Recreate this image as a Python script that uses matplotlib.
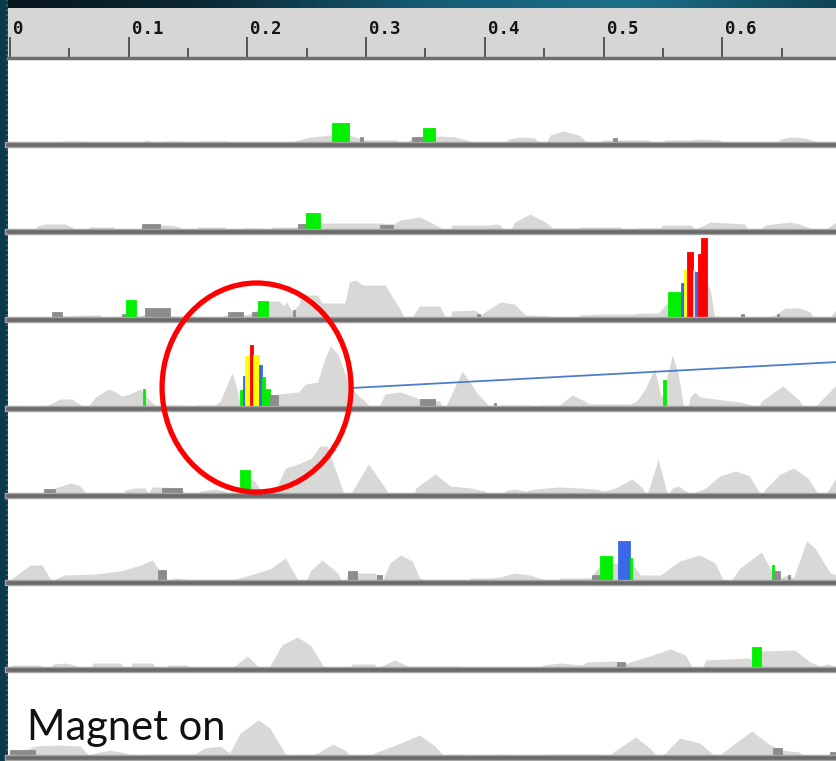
import matplotlib
matplotlib.use("Agg")
import matplotlib.pyplot as plt
import numpy as np
from matplotlib.patches import Ellipse
from matplotlib.colors import LinearSegmentedColormap
import matplotlib.transforms as mtrans

# ---------------- data ----------------
ruler_major = [0.0, 0.1, 0.2, 0.3, 0.4, 0.5, 0.6]
ruler_labels = ["0", "0.1", "0.2", "0.3", "0.4", "0.5", "0.6"]
ruler_minor = [0.05, 0.15, 0.25, 0.35, 0.45, 0.55, 0.65]

t1_x = [0.000, 0.042, 0.045, 0.063, 0.066, 0.110, 0.111, 0.115, 0.120, 0.123, 0.129, 0.131, 0.145, 0.147,
        0.158, 0.160, 0.183, 0.185, 0.198, 0.200, 0.213, 0.216, 0.236, 0.240, 0.253, 0.270, 0.286, 0.291,
        0.299, 0.326, 0.329, 0.337, 0.339, 0.362, 0.375, 0.388, 0.396, 0.415, 0.420, 0.430, 0.442, 0.447,
        0.451, 0.455, 0.466, 0.479, 0.486, 0.497, 0.500, 0.538, 0.541, 0.548, 0.552, 0.573, 0.581, 0.598,
        0.602, 0.645, 0.649, 0.657, 0.670, 0.678, 0.682, 0.697]
t1_h = [0, 0, 4, 4, 0, 0, 3, 5, 3, 0, 0, 4, 4, 0,
        0, 4, 4, 0, 0, 3, 3, 0, 0, 4, 8, 10, 10, 8,
        5, 5, 2, 5, 8, 9, 8, 4, 0, 0, 6, 8, 7, 0,
        0, 10, 14, 10, 3, 3, 5, 5, 0, 0, 5, 5, 6, 5,
        0, 0, 6, 8, 7, 4, 0, 0]
t1_marks = [(0.271, 0.286, 22, "green"), (0.348, 0.358, 17, "green"), (0.295, 0.297, 8, "dark"),
            (0.339, 0.348, 8, "dark"), (0.508, 0.511, 7, "dark")]

t2_x = [0.000, 0.019, 0.023, 0.029, 0.046, 0.052, 0.059, 0.066, 0.067, 0.087, 0.089, 0.108, 0.110, 0.126,
        0.135, 0.143, 0.147, 0.157, 0.158, 0.181, 0.184, 0.194, 0.196, 0.212, 0.215, 0.219, 0.221, 0.244,
        0.261, 0.312, 0.323, 0.329, 0.345, 0.354, 0.365, 0.369, 0.371, 0.372, 0.404, 0.409, 0.413, 0.417,
        0.421, 0.425, 0.438, 0.451, 0.457, 0.478, 0.480, 0.514, 0.518, 0.527, 0.528, 0.548, 0.550, 0.573,
        0.577, 0.581, 0.590, 0.619, 0.623, 0.630, 0.636, 0.657, 0.665, 0.674, 0.678, 0.684, 0.697]
t2_h = [0, 0, 6, 8, 8, 5, 0, 0, 5, 5, 0, 0, 4, 7,
        7, 5, 0, 0, 5, 5, 0, 0, 4, 4, 0, 0, 5, 5,
        9, 9, 8, 12, 15, 10, 3, 0, 0, 7, 7, 8, 7, 0,
        0, 10, 18, 10, 4, 4, 5, 5, 0, 0, 4, 4, 7, 7,
        3, 5, 10, 8, 0, 0, 7, 10, 8, 4, 0, 0, 11]
t2_marks = [(0.111, 0.126, 8, "dark"), (0.243, 0.249, 8, "dark"), (0.249, 0.261, 19, "green"),
            (0.312, 0.323, 7, "dark")]

t3_x = [0.000, 0.024, 0.025, 0.034, 0.044, 0.063, 0.076, 0.080, 0.088, 0.093, 0.110, 0.114, 0.135, 0.156,
        0.160, 0.177, 0.181, 0.198, 0.204, 0.217, 0.227, 0.230, 0.233, 0.238, 0.243, 0.246, 0.259, 0.263,
        0.282, 0.286, 0.291, 0.297, 0.316, 0.329, 0.333, 0.337, 0.345, 0.362, 0.368, 0.371, 0.372, 0.392,
        0.396, 0.400, 0.413, 0.425, 0.434, 0.455, 0.459, 0.478, 0.480, 0.497, 0.526, 0.531, 0.546, 0.552,
        0.586, 0.590, 0.594, 0.611, 0.615, 0.640, 0.645, 0.653, 0.665, 0.674, 0.678, 0.689, 0.697]
t3_h = [0, 0, 3, 3, 4, 5, 5, 0, 0, 4, 4, 6, 4, 4,
        0, 0, 5, 5, 7, 19, 19, 14, 18, 8, 15, 25, 25, 17,
        17, 38, 40, 35, 35, 10, 0, 0, 14, 14, 0, 0, 9, 10,
        5, 8, 18, 16, 5, 4, 0, 0, 5, 6, 6, 7, 7, 15,
        40, 30, 0, 0, 3, 3, 5, 12, 12, 8, 0, 0, 12]
t3_marks = [(0.035, 0.044, 8, "dark"), (0.094, 0.098, 6, "dark"), (0.098, 0.106, 20, "green"),
            (0.114, 0.135, 12, "dark"), (0.184, 0.196, 8, "dark"), (0.204, 0.209, 8, "dark"),
            (0.209, 0.217, 19, "green"), (0.238, 0.240, 10, "dark"), (0.393, 0.396, 6, "dark"),
            (0.554, 0.565, 28, "green"), (0.565, 0.568, 37, "blue"), (0.568, 0.570, 50, "yellow"),
            (0.570, 0.575, 68, "red"), (0.575, 0.577, 50, "light"), (0.577, 0.580, 48, "blue"),
            (0.580, 0.582, 66, "red"), (0.582, 0.587, 82, "red"), (0.616, 0.618, 6, "dark"),
            (0.646, 0.648, 6, "dark")]

t4_x = [0.000, 0.002, 0.029, 0.034, 0.042, 0.052, 0.061, 0.066, 0.072, 0.083, 0.089, 0.094, 0.101, 0.110,
        0.115, 0.122, 0.126, 0.129, 0.131, 0.147, 0.152, 0.154, 0.156, 0.173, 0.177, 0.183, 0.187, 0.190,
        0.194, 0.226, 0.243, 0.249, 0.259, 0.265, 0.270, 0.276, 0.285, 0.292, 0.299, 0.305, 0.310, 0.316,
        0.329, 0.345, 0.362, 0.365, 0.368, 0.381, 0.394, 0.404, 0.413, 0.438, 0.442, 0.447, 0.463, 0.467,
        0.474, 0.484, 0.488, 0.522, 0.528, 0.535, 0.543, 0.548, 0.550, 0.553, 0.558, 0.563, 0.567, 0.571,
        0.573, 0.577, 0.581, 0.594, 0.615, 0.628, 0.630, 0.633, 0.651, 0.664, 0.670, 0.676, 0.697]
t4_h = [0, 3, 3, 5, 10, 10, 3, 3, 12, 20, 17, 13, 15, 20,
        12, 4, 0, 0, 4, 4, 0, 0, 4, 4, 8, 25, 36, 25,
        5, 15, 17, 25, 27, 50, 63, 55, 27, 15, 8, 0, 0, 15,
        17, 10, 8, 0, 5, 38, 15, 3, 4, 4, 0, 4, 4, 8,
        14, 8, 5, 5, 8, 20, 40, 15, 12, 30, 54, 35, 5, 0,
        12, 17, 12, 10, 7, 3, 0, 8, 23, 10, 0, 0, 25]
t4_marks = [(0.112, 0.114, 20, "green"), (0.194, 0.196, 19, "green"), (0.196, 0.198, 33, "blue"),
            (0.198, 0.202, 53, "yellow"), (0.202, 0.205, 64, "red"), (0.205, 0.210, 54, "yellow"),
            (0.210, 0.212, 44, "blue"), (0.212, 0.215, 32, "green"), (0.215, 0.219, 20, "green"),
            (0.219, 0.226, 14, "dark"), (0.345, 0.358, 10, "dark"), (0.408, 0.409, 6, "dark"),
            (0.550, 0.553, 29, "green")]
t4_link_x = [0.288, 0.697]
t4_link_h = [21, 47]

t5_x = [0.000, 0.011, 0.013, 0.029, 0.038, 0.051, 0.059, 0.066, 0.074, 0.076, 0.086, 0.088, 0.095, 0.097,
        0.105, 0.114, 0.116, 0.120, 0.126, 0.145, 0.147, 0.158, 0.160, 0.173, 0.181, 0.185, 0.194, 0.202,
        0.206, 0.213, 0.217, 0.223, 0.232, 0.243, 0.254, 0.261, 0.267, 0.282, 0.286, 0.302, 0.316, 0.320,
        0.327, 0.329, 0.337, 0.340, 0.342, 0.358, 0.371, 0.388, 0.400, 0.404, 0.415, 0.417, 0.425, 0.434,
        0.442, 0.463, 0.480, 0.493, 0.501, 0.510, 0.524, 0.533, 0.536, 0.539, 0.546, 0.552, 0.554, 0.558,
        0.563, 0.573, 0.586, 0.598, 0.611, 0.623, 0.633, 0.637, 0.649, 0.660, 0.672, 0.682, 0.686, 0.697]
t5_h = [0, 0, 3, 3, 8, 13, 10, 0, 0, 3, 3, 0, 0, 6,
        8, 8, 3, 9, 9, 8, 0, 0, 5, 7, 5, 0, 0, 18,
        15, 3, 0, 5, 28, 32, 38, 50, 50, 0, 0, 32, 8, 0,
        0, 3, 3, 0, 8, 22, 10, 8, 5, 0, 0, 5, 7, 5,
        7, 9, 8, 7, 5, 8, 17, 8, 0, 10, 37, 10, 0, 8,
        10, 2, 8, 20, 25, 20, 0, 8, 22, 28, 18, 0, 0, 20]
t5_marks = [(0.029, 0.038, 7, "dark"), (0.128, 0.145, 8, "dark"), (0.194, 0.202, 26, "green")]

t6_x = [0.000, 0.002, 0.017, 0.027, 0.035, 0.040, 0.046, 0.072, 0.093, 0.110, 0.120, 0.126, 0.133, 0.139,
        0.147, 0.156, 0.181, 0.190, 0.202, 0.219, 0.232, 0.244, 0.249, 0.253, 0.263, 0.276, 0.280, 0.282,
        0.285, 0.307, 0.314, 0.320, 0.329, 0.339, 0.345, 0.350, 0.386, 0.388, 0.404, 0.413, 0.425, 0.438,
        0.451, 0.455, 0.461, 0.463, 0.489, 0.495, 0.507, 0.512, 0.524, 0.531, 0.548, 0.564, 0.581, 0.594,
        0.602, 0.606, 0.615, 0.633, 0.640, 0.649, 0.655, 0.660, 0.671, 0.678, 0.691, 0.697]
t6_h = [0, 5, 18, 18, 2, 5, 8, 9, 12, 18, 23, 12, 3, 5,
        4, 2, 2, 4, 8, 14, 25, 0, 0, 12, 23, 10, 0, 0,
        10, 10, 3, 20, 28, 22, 5, 3, 3, 5, 5, 6, 10, 8,
        3, 0, 0, 5, 5, 15, 20, 20, 20, 8, 8, 22, 28, 20,
        0, 0, 15, 31, 15, 5, 8, 5, 42, 35, 10, 8]
t6_marks = [(0.125, 0.131, 13, "dark"), (0.285, 0.292, 12, "dark"), (0.309, 0.313, 8, "dark"),
            (0.490, 0.497, 8, "dark"), (0.497, 0.507, 27, "green"), (0.512, 0.522, 42, "blue"),
            (0.522, 0.524, 25, "green"), (0.642, 0.644, 18, "green"), (0.644, 0.649, 12, "dark"),
            (0.655, 0.657, 8, "dark")]

t7_x = [0.000, 0.001, 0.025, 0.030, 0.034, 0.036, 0.046, 0.055, 0.059, 0.067, 0.070, 0.093, 0.097, 0.101,
        0.103, 0.120, 0.123, 0.131, 0.133, 0.149, 0.152, 0.163, 0.164, 0.172, 0.174, 0.185, 0.200, 0.212,
        0.217, 0.229, 0.242, 0.253, 0.266, 0.286, 0.288, 0.307, 0.310, 0.313, 0.324, 0.335, 0.340, 0.378,
        0.381, 0.394, 0.396, 0.410, 0.413, 0.421, 0.423, 0.442, 0.447, 0.449, 0.463, 0.482, 0.486, 0.509,
        0.518, 0.522, 0.539, 0.556, 0.569, 0.576, 0.583, 0.586, 0.622, 0.625, 0.633, 0.661, 0.674, 0.682,
        0.689, 0.697]
t7_h = [0, 5, 5, 0, 0, 6, 7, 5, 0, 0, 7, 7, 0, 0,
        7, 7, 0, 0, 5, 5, 0, 0, 3, 3, 0, 0, 14, 0,
        0, 25, 33, 25, 0, 0, 6, 6, 0, 4, 10, 4, 4, 4,
        0, 0, 2, 2, 0, 0, 3, 3, 0, 5, 7, 5, 8, 9,
        6, 8, 14, 21, 15, 0, 0, 10, 12, 10, 19, 20, 8, 4,
        6, 3]
t7_marks = [(0.511, 0.518, 8, "dark"), (0.625, 0.633, 23, "green")]

t8_x = [0.000, 0.021, 0.042, 0.059, 0.066, 0.072, 0.084, 0.097, 0.105, 0.118, 0.156, 0.164, 0.177, 0.185,
        0.194, 0.209, 0.219, 0.234, 0.243, 0.246, 0.253, 0.259, 0.272, 0.282, 0.288, 0.302, 0.307, 0.329,
        0.345, 0.358, 0.367, 0.371, 0.396, 0.403, 0.411, 0.413, 0.425, 0.434, 0.451, 0.454, 0.497, 0.504,
        0.507, 0.527, 0.539, 0.546, 0.552, 0.564, 0.581, 0.591, 0.596, 0.598, 0.611, 0.625, 0.638, 0.649,
        0.665, 0.670, 0.676, 0.678, 0.691, 0.697]
t8_h = [2, 12, 13, 12, 3, 5, 8, 5, 2, 4, 4, 10, 12, 5,
        25, 38, 30, 0, 0, 4, 3, 5, 14, 8, 0, 0, 5, 15,
        23, 12, 0, 4, 3, 0, 0, 4, 3, 0, 0, 4, 4, 0,
        5, 21, 10, 0, 5, 20, 15, 5, 0, 3, 15, 27, 15, 8,
        6, 0, 0, 3, 3, 3]
t8_marks = [(0.000, 0.021, 8, "dark"), (0.643, 0.650, 10, "dark"), (0.691, 0.697, 6, "dark")]
t8_label = "Magnet on"

tracks = [(t1_x, t1_h, t1_marks), (t2_x, t2_h, t2_marks), (t3_x, t3_h, t3_marks),
          (t4_x, t4_h, t4_marks), (t5_x, t5_h, t5_marks), (t6_x, t6_h, t6_marks),
          (t7_x, t7_h, t7_marks), (t8_x, t8_h, t8_marks)]

# ---------------- style ----------------
COLORS = {"green": "#00f000", "blue": "#3a68e8", "yellow": "#ffff00", "red": "#ff0000",
          "dark": "#8c8c8c", "light": "#d8d9d6"}
GRAY = "#d8d9d6"
W, H = 837, 761
XLIM = (-0.0017, 0.6967)
LEFT = 8
rows = [58, 145, 232, 320, 409, 496, 583, 670, 758]

fig = plt.figure(figsize=(W / 100, H / 100), dpi=100)
fig.patch.set_facecolor("white")


def box(x0, y0, x1, y1):
    return [x0 / W, 1 - y1 / H, (x1 - x0) / W, (y1 - y0) / H]


# top dark gradient band
axg = fig.add_axes(box(0, 0, W, 8))
cmap = LinearSegmentedColormap.from_list("band", ["#07151c", "#0b2a36", "#155a72", "#1d6f8a", "#0f4455"])
axg.imshow(np.linspace(0, 1, 256)[None, :], aspect="auto", cmap=cmap, extent=(0, 1, 0, 1))
axg.set_axis_off()

# left strip
axl = fig.add_axes(box(0, 0, LEFT, H))
axl.set_facecolor("#0b3b4a")
axl.set_xlim(0, 1)
axl.set_ylim(0, 1)
axl.axvline(0.85, color="#3f7180", lw=1.2, ls=(0, (1, 2)))
axl.set_xticks([])
axl.set_yticks([])
for s in axl.spines.values():
    s.set_visible(False)

# ruler
axr = fig.add_axes(box(LEFT, 8, W, rows[0]))
axr.set_facecolor("#d6d6d6")
axr.set_xlim(*XLIM)
axr.set_ylim(0, rows[0] - 8)
axr.set_xticks(ruler_major)
axr.set_xticks(ruler_minor, minor=True)
axr.set_yticks([])
axr.tick_params(axis="x", which="major", direction="in", length=15, width=1.4, color="#555555",
                bottom=True, top=False, labelbottom=False)
axr.tick_params(axis="x", which="minor", direction="in", length=7.5, width=1.4, color="#555555",
                bottom=True, top=False)
for k, s in axr.spines.items():
    s.set_visible(k == "bottom")
axr.spines["bottom"].set_color("#6f6f6f")
axr.spines["bottom"].set_linewidth(2.5)
lab_tr = mtrans.offset_copy(axr.transData, fig=fig, x=3, y=0, units="dots")
for v, lab in zip(ruler_major, ruler_labels):
    axr.text(v, 24, lab, transform=lab_tr, ha="left", va="baseline", fontsize=12.5,
             fontweight="bold", family="DejaVu Sans Mono", color="#141414")

# tracks
axes = []
for i, (xs, hs, marks) in enumerate(tracks):
    top, bot = rows[i], rows[i + 1]
    ax = fig.add_axes(box(LEFT, top, W, bot))
    ax.patch.set_visible(False)
    ax.set_xlim(*XLIM)
    ax.set_ylim(0, bot - top)
    ax.set_xticks([])
    ax.set_yticks([])
    for s in ax.spines.values():
        s.set_visible(False)
    ax.fill_between(xs, 0, hs, color=GRAY, lw=0, zorder=1)
    for x0, x1, h, c in marks:
        ax.bar(x0, h, width=x1 - x0, align="edge", color=COLORS[c], edgecolor=COLORS[c],
               lw=0.6, zorder=2)
    ax.axhline(0, color="#a4a4a4", lw=4.6, zorder=4, clip_on=False)
    ax.axhline(0, color="#6a6a6a", lw=2.6, zorder=5, clip_on=False)
    axes.append(ax)

ax4 = axes[3]
ax4.set_zorder(10)
ax4.plot(t4_link_x, t4_link_h, color="#4f7fc8", lw=1.3, zorder=6, clip_on=False)
ax4.add_patch(Ellipse((0.2077, 21.5), width=0.1592, height=209, fill=False, edgecolor="#ff0000",
                      lw=3.8, zorder=7, clip_on=False))

axes[7].text(0.0143, 18, t8_label, ha="left", va="baseline", fontsize=30, family="Lato",
             color="#111111", zorder=8)

fig.savefig("out.png", dpi=100, facecolor=fig.get_facecolor())
